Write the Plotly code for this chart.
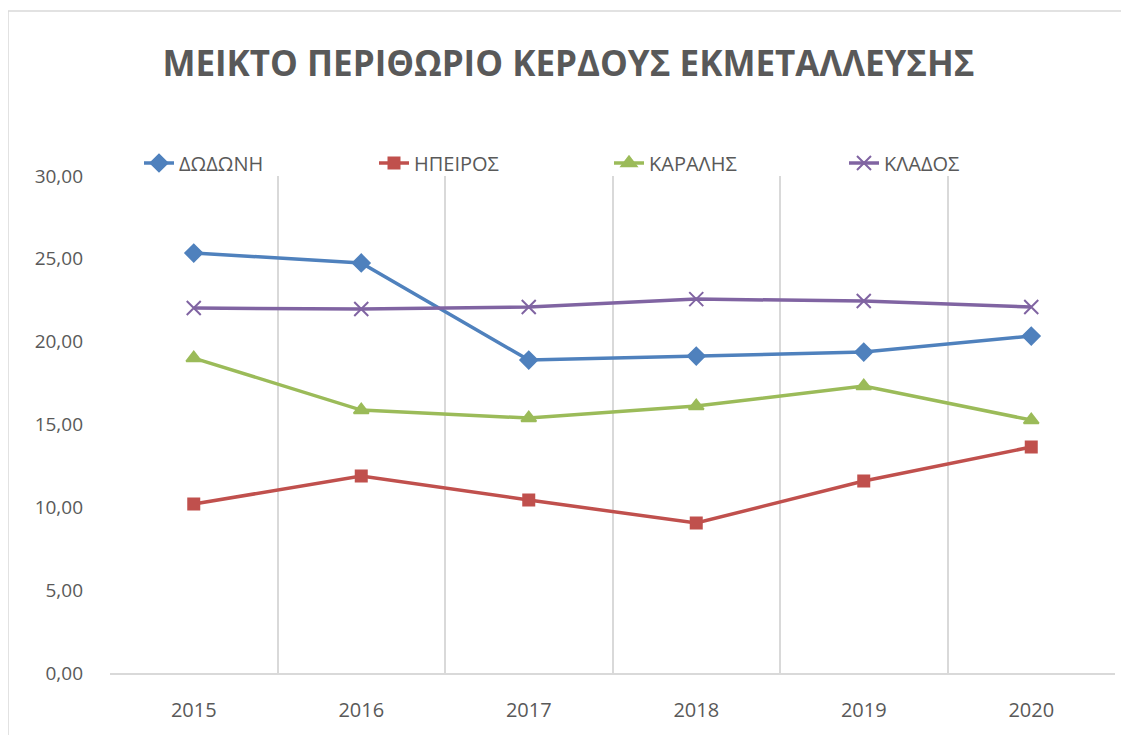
import plotly.graph_objects as go

years = ["2015", "2016", "2017", "2018", "2019", "2020"]
dodoni = [25.35, 24.75, 18.89, 19.13, 19.37, 20.34]
ipeiros = [10.20, 11.89, 10.44, 9.05, 11.59, 13.64]
karalis = [19.01, 15.87, 15.39, 16.11, 17.32, 15.27]
klados = [22.03, 21.97, 22.09, 22.57, 22.45, 22.09]
y_ticks = [0, 5, 10, 15, 20, 25, 30]

series = [
    ("ΔΩΔΩΝΗ", dodoni, "#4F81BD", "diamond", 13),
    ("ΗΠΕΙΡΟΣ", ipeiros, "#C0504D", "square", 11),
    ("ΚΑΡΑΛΗΣ", karalis, "#9BBB59", "triangle-up", 13),
    ("ΚΛΑΔΟΣ", klados, "#8064A2", "x-thin", 14),
]

fig = go.Figure()
for name, vals, col, sym, sz in series:
    fig.add_trace(go.Scatter(
        x=years, y=vals, name=name, mode="lines+markers",
        line=dict(color=col, width=3.5),
        marker=dict(symbol=sym, size=sz, color=col, line=dict(color=col, width=2)),
    ))

# page body has an 8px margin; figure coordinates are offset accordingly
W, H = 1121, 727
L, R, T, B = 102, 1107, 168, 665
PW, PH = R - L, B - T

fig.update_layout(
    width=W, height=H,
    margin=dict(l=L, r=W - R, t=T, b=H - B),
    paper_bgcolor="white", plot_bgcolor="white",
    separators=",.",
    font=dict(family="Open Sans", color="#595959", size=19),
    title=dict(text="<b>ΜΕΙΚΤΟ ΠΕΡΙΘΩΡΙΟ ΚΕΡΔΟΥΣ ΕΚΜΕΤΑΛΛΕΥΣΗΣ</b>",
               x=0.5, xanchor="center", y=1 - 56 / H, yanchor="middle",
               font=dict(family="Open Sans", size=35, color="#595959")),
    legend=dict(orientation="h", x=(131 - L) / PW, xanchor="left",
                y=(B - 155) / PH, yanchor="middle",
                entrywidth=190, entrywidthmode="pixels",
                font=dict(size=20, color="#595959"), bgcolor="rgba(0,0,0,0)"),
    showlegend=True,
    shapes=[dict(type="rect", xref="paper", yref="paper",
                 x0=(0 - L) / PW, x1=1.2, y0=-0.3, y1=(B - 3) / PH,
                 line=dict(color="#D9D9D9", width=1.5), fillcolor="rgba(0,0,0,0)", layer="below")],
)
fig.update_xaxes(
    type="category", range=[-0.5, 5.5], tickson="boundaries",
    showgrid=True, gridcolor="#D9D9D9", gridwidth=1.5,
    showline=True, linecolor="#D9D9D9", linewidth=1.5,
    ticks="", ticklabelstandoff=18,
    tickfont=dict(size=20, color="#595959"),
    zeroline=False,
)
fig.update_yaxes(
    range=[0, 30], tickvals=y_ticks, tickformat=".2f",
    showgrid=False, zeroline=False, showline=False, ticks="",
    ticklabelstandoff=26, tickfont=dict(size=19, color="#595959"),
)
fig.write_html("out.html")
